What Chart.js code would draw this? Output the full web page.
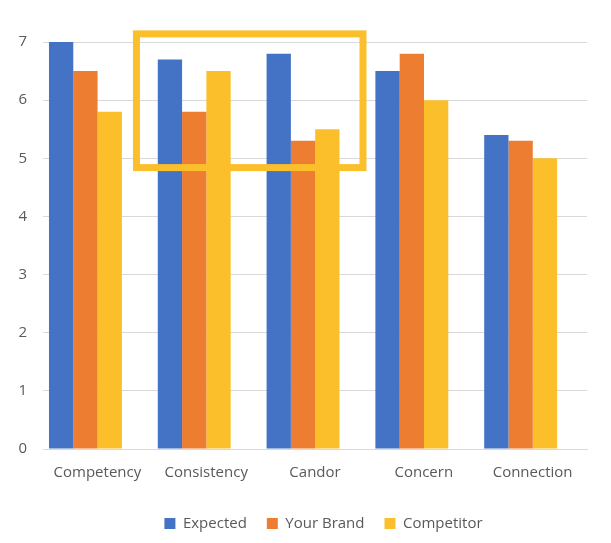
<!DOCTYPE html>
<html>
<head>
<meta charset="utf-8">
<script src="https://cdn.jsdelivr.net/npm/chart.js@4/dist/chart.umd.min.js"></script>
<style>
html,body{margin:0;padding:0;background:#fff;}
#wrap{width:611px;height:543px;position:relative;}
</style>
</head>
<body>
<div id="wrap"><canvas id="c"></canvas></div>
<script>
const categories = ["Competency", "Consistency", "Candor", "Concern", "Connection"];
const expected   = [7.0, 6.7, 6.8, 6.5, 5.4];
const yourBrand  = [6.5, 5.8, 5.3, 6.8, 5.3];
const competitor = [5.8, 6.5, 5.5, 6.0, 5.0];
const yTicks     = [0, 1, 2, 3, 4, 5, 6, 7];
// highlight box in data units (bar axis index range, value range)
const highlightX = [0.469, 2.551];
const highlightY = [4.84, 7.14];

const FONT = "'Open Sans', sans-serif";
const TXT = "#595959";
const BAR_SHIFT = 0.11; // bars sit slightly left of the category labels, as in the original

const toPoints = arr => arr.map((v, i) => ({ x: i, y: v }));

const highlightPlugin = {
  id: 'highlight',
  afterDatasetsDraw(chart) {
    const x = chart.scales.xb, y = chart.scales.y, ctx = chart.ctx;
    const x0 = x.getPixelForValue(highlightX[0]);
    const x1 = x.getPixelForValue(highlightX[1]);
    const y0 = y.getPixelForValue(highlightY[1]);
    const y1 = y.getPixelForValue(highlightY[0]);
    ctx.save();
    ctx.strokeStyle = '#FCBF2C';
    ctx.lineWidth = 7;
    ctx.strokeRect(x0, y0, x1 - x0, y1 - y0);
    ctx.restore();
  }
};

const legendShift = {
  id: 'legendShift',
  afterLayout(chart) {
    const lg = chart.legend;
    if (!lg) return;
    const dx = 30, dy = -2;
    lg.left += dx; lg.right += dx;
    lg.top += dy; lg.bottom += dy;
  }
};

new Chart(document.getElementById('c'), {
  type: 'bar',
  data: {
    labels: categories,
    datasets: [
      { label: 'Expected', data: toPoints(expected), backgroundColor: '#4472C4', xAxisID: 'xb' },
      { label: 'Your Brand', data: toPoints(yourBrand), backgroundColor: '#ED7D31', xAxisID: 'xb' },
      { label: 'Competitor', data: toPoints(competitor), backgroundColor: '#FCBF2C', xAxisID: 'xb' }
    ]
  },
  options: {
    responsive: true,
    maintainAspectRatio: false,
    animation: false,
    devicePixelRatio: 1,
    layout: { padding: { top: 42, right: 24, bottom: 0, left: 0 } },
    datasets: { bar: { categoryPercentage: 0.67, barPercentage: 1.0 } },
    plugins: {
      legend: {
        position: 'bottom',
        labels: {
          boxWidth: 11, boxHeight: 11, padding: 20,
          color: TXT,
          font: { family: FONT, size: 15 }
        }
      },
      tooltip: { enabled: false }
    },
    scales: {
      x: {
        type: 'category',
        grid: { display: false, drawTicks: false },
        border: { display: true, color: '#D9D9D9', width: 1 },
        ticks: { color: TXT, font: { family: FONT, size: 15 }, padding: 15 },
        afterFit(s) { s.height = 49; }
      },
      xb: {
        type: 'linear',
        display: false,
        offset: false,
        min: -0.5 + BAR_SHIFT,
        max: 4.5 + BAR_SHIFT,
        afterBuildTicks(s) { s.ticks = categories.map((_, i) => ({ value: i })); }
      },
      y: {
        min: 0, max: 7,
        afterBuildTicks(s) { s.ticks = yTicks.map(v => ({ value: v })); },
        grid: { color: '#D9D9D9', drawTicks: false, lineWidth: 1 },
        border: { display: false },
        ticks: { color: TXT, font: { family: FONT, size: 15 }, padding: 16 },
        afterFit(s) { s.width = 43; }
      }
    }
  },
  plugins: [highlightPlugin, legendShift]
});
</script>
</body>
</html>
